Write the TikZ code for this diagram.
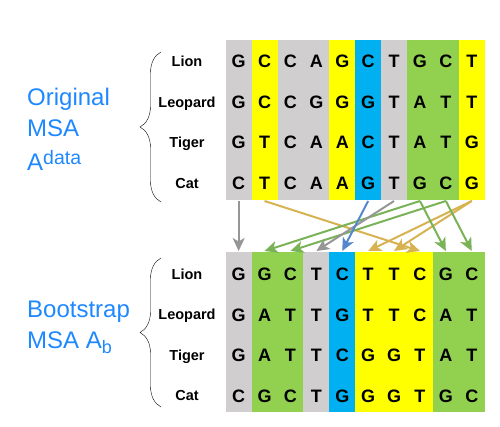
\documentclass[tikz,border=0pt]{standalone}
\usepackage{fontspec}
\setmainfont{Liberation Sans}
\usepackage{tikz}
\usetikzlibrary{arrows.meta}
\usetikzlibrary{decorations.pathreplacing}
\definecolor{cellgray}{HTML}{D0CECE}
\definecolor{cellyellow}{HTML}{FFFF00}
\definecolor{cellblue}{HTML}{00B0F0}
\definecolor{cellgreen}{HTML}{92D050}
\definecolor{labelblue}{RGB}{30,136,255}
\definecolor{arrgray}{RGB}{150,150,150}
\definecolor{arrgold}{RGB}{214,178,80}
\definecolor{arrgreen}{RGB}{122,178,88}
\definecolor{arrblue}{RGB}{85,135,205}
\tikzset{>={Stealth[length=13pt,width=12pt,inset=3.5pt]},
  base/.style={font=\fontsize{18}{18}\selectfont\bfseries,
    text height=13pt, text depth=0pt, inner sep=0pt},
  taxon/.style={font=\fontsize{14.5}{14.5}\selectfont\bfseries,
    text height=10.4pt, text depth=0pt, inner sep=0pt},
  msalabel/.style={font=\fontsize{24}{30.5}\selectfont, text=labelblue,
    align=left, anchor=base west, inner sep=0pt},
  mv/.style={line width=2pt, ->},
  curly/.style={decorate, decoration={brace, amplitude=21pt}, thin}}

\begin{document}
\begin{tikzpicture}[x=1pt,y=-1pt]
    \useasboundingbox (0,0) rectangle (500,427);

    % original alignment
    \foreach \col [count=\c] in {cellgray,cellyellow,cellgray,cellgray,cellyellow,cellblue,cellgray,cellgreen,cellgreen,cellyellow}
        \fill[\col] ({225.7+25.9*(\c-1)},40) rectangle ({225.7+25.9*\c},200);
    \foreach \seq [count=\r] in {{G,C,C,A,G,C,T,G,C,T},{G,C,C,G,G,G,T,A,T,T},{G,T,C,A,A,C,T,A,T,G},{C,T,C,A,A,G,T,G,C,G}}
        \foreach \b [count=\c] in \seq
            \node[base] (a\r-\c) at ({225.7+25.9*(\c-0.5)},{61.5+40.5*(\r-1)}) {\b};

    % bootstrap alignment
    \foreach \col [count=\c] in {cellgray,cellgreen,cellgreen,cellgray,cellblue,cellyellow,cellyellow,cellyellow,cellgreen,cellgreen}
        \fill[\col] ({225.7+25.9*(\c-1)},252) rectangle ({225.7+25.9*\c},412);
    \foreach \seq [count=\r] in {{G,G,C,T,C,T,T,C,G,C},{G,A,T,T,G,T,T,C,A,T},{G,A,T,T,C,G,G,T,A,T},{C,G,C,T,G,G,G,T,G,C}}
        \foreach \b [count=\c] in \seq
            \node[base] (b\r-\c) at ({225.7+25.9*(\c-0.5)},{274+40.5*(\r-1)}) {\b};

    \foreach \name [count=\r] in {Lion,Leopard,Tiger,Cat} {
        \node[taxon] (na\r) at (187,{61.5+40.5*(\r-1)}) {\name};
        \node[taxon] (nb\r) at (187,{274+40.5*(\r-1)}) {\name};
    }

    \draw[curly] (161,202) -- (161,52);
    \draw[curly] (161,407) -- (161,258);

    \node[msalabel] (orig) at (27,171)
        {Original\\MSA\\[4pt]A\raisebox{6.5pt}{\fontsize{19.5}{19.5}\selectfont data}};
    \node[msalabel] (boot) at (27,348)
        {Bootstrap\\MSA A\raisebox{-5pt}{\fontsize{18}{18}\selectfont b}};

    % resampled columns
    \foreach \c in {1,...,10} {
        \coordinate (up\c) at ({225.7+25.9*(\c-0.5)},201);
        \coordinate (dn\c) at ({225.7+25.9*(\c-0.5)},251);
    }
    \draw[mv, arrgray] (up1) -- (dn1);
    \draw[mv, arrgold] (up2) -- (dn8);
    \draw[mv, arrgreen] (up8) -- (dn2);
    \draw[mv, arrgreen] (up9) -- (dn3);
    \draw[mv, arrgray] (up7) -- (dn4);
    \draw[mv, arrblue] (up6) -- (dn5);
    \draw[mv, arrgold] (up10) -- (dn6);
    \draw[mv, arrgold] (up10) -- (dn7);
    \draw[mv, arrgreen] (up8) -- (dn9);
    \draw[mv, arrgreen] (up9) -- (dn10);

\end{tikzpicture}
\end{document}
